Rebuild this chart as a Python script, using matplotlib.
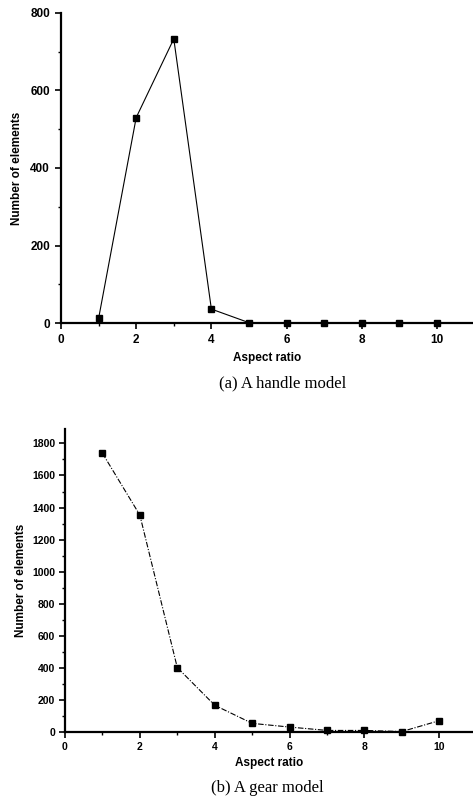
import matplotlib
matplotlib.use("Agg")
import matplotlib.pyplot as plt
from matplotlib.ticker import MultipleLocator

aspect_a = [1, 2, 3, 4, 5, 6, 7, 8, 9, 10]
count_a = [12, 530, 733, 36, 1, 0, 0, 0, 0, 0]
aspect_b = [1, 2, 3, 4, 5, 6, 7, 8, 9, 10]
count_b = [1739, 1353, 402, 167, 54, 31, 10, 10, 3, 71]
caption_a = "(a) A handle model"
caption_b = "(b) A gear model"

plt.rcParams['font.family'] = ['Liberation Sans', 'DejaVu Sans']
fig = plt.figure(figsize=(4.73, 8.07), dpi=100)

def style(ax, ymax, ymaj, ymin, xmax, tsize, tpad, lsize, ylpad):
    ax.set_xlim(0, xmax)
    ax.set_ylim(0, ymax)
    ax.spines['top'].set_visible(False)
    ax.spines['right'].set_visible(False)
    ax.spines['left'].set_linewidth(1.6)
    ax.spines['bottom'].set_linewidth(1.6)
    ax.xaxis.set_major_locator(MultipleLocator(2))
    ax.xaxis.set_minor_locator(MultipleLocator(1))
    ax.yaxis.set_major_locator(MultipleLocator(ymaj))
    ax.yaxis.set_minor_locator(MultipleLocator(ymin))
    ax.tick_params(which='major', length=4, width=1.2, labelsize=tsize, pad=tpad)
    ax.tick_params(which='minor', length=2.5, width=1.0)
    for lab in ax.get_xticklabels() + ax.get_yticklabels():
        lab.set_fontweight('bold')
    ax.set_xlabel("Aspect ratio", fontsize=lsize, fontweight='bold', labelpad=4)
    ax.set_ylabel("Number of elements", fontsize=lsize, fontweight='bold', labelpad=ylpad)

ax1 = fig.add_axes([0.129, 0.5997, 0.871, 0.3843])
ax1.plot(aspect_a, count_a, color='black', lw=0.8, marker='s', ms=4.5, clip_on=False)
style(ax1, 800, 200, 100, 10.96, 8.5, 4, 8.5, 5)
fig.text(0.598, 0.525, caption_a, ha='center', va='center', fontsize=12,
         family=['Liberation Serif', 'DejaVu Serif'])

ax2 = fig.add_axes([0.1374, 0.0929, 0.8626, 0.3755])
ax2.plot(aspect_b, count_b, color='black', lw=0.8, ls=(0, (5, 1.5, 1, 1.5)),
         marker='s', ms=4.5, clip_on=False)
style(ax2, 1890, 200, 100, 10.9, 7.5, 3, 8.5, 4)
fig.text(0.565, 0.024, caption_b, ha='center', va='center', fontsize=12,
         family=['Liberation Serif', 'DejaVu Serif'])

fig.savefig("out.png", dpi=100, facecolor='white')
